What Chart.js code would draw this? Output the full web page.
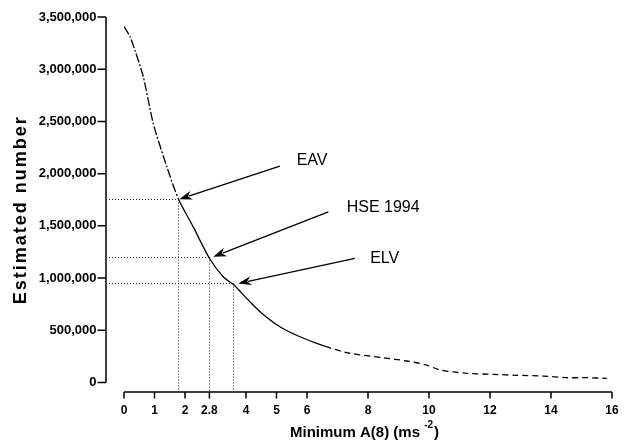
<!DOCTYPE html>
<html>
<head>
<meta charset="utf-8"/>
<script src="https://cdn.jsdelivr.net/npm/chart.js"></script>
<style>
  html, body { margin: 0; padding: 0; background: #fff; }
</style>
</head>
<body>
<canvas id="myChart" width="626" height="442"></canvas>
<script>
// curve
const minA8 = [0, 0.2, 0.36, 0.63, 0.96, 1.4, 1.78, 2.27, 2.8, 3.26, 3.58, 4.02, 4.46, 5.11, 5.77, 6.6, 7.41, 8.5, 9.27, 9.92, 10.36, 11.24, 12.11, 12.87, 13.75, 14.51, 15.17, 15.83];
const estimatedNumber = [3410000, 3310000, 3180000, 2930000, 2480000, 2070000, 1760000, 1490000, 1190000, 1010000, 940000, 806000, 678000, 534000, 438000, 345000, 280000, 237000, 206000, 167000, 120000, 88000, 78000, 69000, 62000, 46000, 46000, 40000];

// tick labels
const xTicks = [0, 1, 2, 2.8, 4, 5, 6, 8, 10, 12, 14, 16];
const yTicks = [0, 500000, 1000000, 1500000, 2000000, 2500000, 3000000, 3500000];

// limit values marked on the curve
const limitNames = ["EAV", "HSE 1994", "ELV"];
const limitA8 = [1.78, 2.8, 3.58];
const limitNumber = [1753000, 1198000, 949000];

// arrow + label placement in data units
const notes = [
  { tip: [1.81, 1755000], tail: [5.11, 2072000], text: [5.66, 2081000] },
  { tip: [2.93, 1204000], tail: [6.70, 1634000], text: [7.30, 1634000] },
  { tip: [3.75, 949000],  tail: [7.57, 1189000], text: [8.07, 1141000] }
];

const FONT = '"Liberation Sans", Arial, sans-serif';

const points = minA8.map((x, i) => ({ x: x, y: estimatedNumber[i] }));

const axesPlugin = {
  id: 'offsetAxes',
  beforeDatasetsDraw(chart) {
    const { ctx, chartArea: a, scales: { x, y } } = chart;
    const axisX = a.left - 18;
    const axisY = a.bottom + 9.5;
    ctx.save();
    ctx.strokeStyle = '#222';
    ctx.lineWidth = 1;
    ctx.setLineDash([1, 2]);
    limitA8.forEach((v, i) => {
      const px = Math.round(x.getPixelForValue(v)) + 0.5;
      const py = Math.round(y.getPixelForValue(limitNumber[i])) + 0.5;
      ctx.beginPath();
      ctx.moveTo(axisX, py);
      ctx.lineTo(px, py);
      ctx.moveTo(px, py);
      ctx.lineTo(px, axisY);
      ctx.stroke();
    });
    ctx.restore();
  },
  afterDraw(chart) {
    const { ctx, chartArea: a, scales: { x, y } } = chart;
    const axisX = a.left - 18;
    const axisY = a.bottom + 9.5;
    ctx.save();
    ctx.strokeStyle = '#000';
    ctx.lineWidth = 1.5;
    // y axis line + ticks
    ctx.beginPath();
    ctx.moveTo(axisX, y.getPixelForValue(3500000));
    ctx.lineTo(axisX, y.getPixelForValue(0));
    y.ticks.forEach(t => {
      const py = y.getPixelForValue(t.value);
      ctx.moveTo(axisX - 8.5, py);
      ctx.lineTo(axisX, py);
    });
    ctx.stroke();
    // x axis line + ticks
    ctx.beginPath();
    ctx.moveTo(x.getPixelForValue(0), axisY);
    ctx.lineTo(x.getPixelForValue(16), axisY);
    x.ticks.forEach(t => {
      const px = x.getPixelForValue(t.value);
      ctx.moveTo(px, axisY);
      ctx.lineTo(px, axisY + 6.5);
    });
    ctx.stroke();

    // arrows and labels
    ctx.lineWidth = 1.3;
    ctx.fillStyle = '#000';
    notes.forEach((n, i) => {
      const tx = x.getPixelForValue(n.tip[0]), ty = y.getPixelForValue(n.tip[1]);
      const sx = x.getPixelForValue(n.tail[0]), sy = y.getPixelForValue(n.tail[1]);
      const ang = Math.atan2(ty - sy, tx - sx);
      const len = 13, half = 4.5;
      const bx = tx - len * Math.cos(ang), by = ty - len * Math.sin(ang);
      ctx.beginPath();
      ctx.moveTo(sx, sy);
      ctx.lineTo(bx + 3 * Math.cos(ang), by + 3 * Math.sin(ang));
      ctx.stroke();
      ctx.beginPath();
      ctx.moveTo(tx, ty);
      ctx.lineTo(bx - half * Math.sin(ang), by + half * Math.cos(ang));
      ctx.lineTo(bx + 4 * Math.cos(ang), by + 4 * Math.sin(ang));
      ctx.lineTo(bx + half * Math.sin(ang), by - half * Math.cos(ang));
      ctx.closePath();
      ctx.fill();

      ctx.font = '16px ' + FONT;
      ctx.textAlign = 'left';
      ctx.textBaseline = 'alphabetic';
      ctx.fillText(limitNames[i], x.getPixelForValue(n.text[0]), y.getPixelForValue(n.text[1]));
    });

    // y title
    ctx.save();
    ctx.translate(21, (a.top + a.bottom) / 2 + 10);
    ctx.rotate(-Math.PI / 2);
    ctx.font = 'bold 18px ' + FONT;
    ctx.letterSpacing = '2px';
    ctx.textAlign = 'center';
    ctx.textBaseline = 'middle';
    ctx.fillText('Estimated number', 0, 0);
    ctx.restore();

    // x title with superscript
    const main = 'Minimum A(8) (ms ', sup = '-2', close = ')';
    ctx.textAlign = 'left';
    ctx.textBaseline = 'alphabetic';
    ctx.font = 'bold 15px ' + FONT;
    const w1 = ctx.measureText(main).width, w3 = ctx.measureText(close).width;
    ctx.font = 'bold 10px ' + FONT;
    const w2 = ctx.measureText(sup).width;
    const cx = (a.left + a.right) / 2 - 4 - (w1 + w2 + w3) / 2;
    const base = 437;
    ctx.font = 'bold 15px ' + FONT;
    ctx.fillText(main, cx, base);
    ctx.font = 'bold 10px ' + FONT;
    ctx.fillText(sup, cx + w1, base - 9);
    ctx.font = 'bold 15px ' + FONT;
    ctx.fillText(close, cx + w1 + w2 + 1, base);
    ctx.restore();
  }
};

const ctx = document.getElementById('myChart').getContext('2d');

new Chart(ctx, {
  type: 'line',
  data: {
    datasets: [{
      label: 'Estimated number',
      data: points,
      borderColor: '#000',
      borderWidth: 1.3,
      pointRadius: 0,
      tension: 0.25,
      fill: false,
      segment: {
        borderDash: c => {
          const px = c.p0.parsed.x;
          if (px < 1.5) return [9, 2, 2, 2];
          if (px >= 6.5) return [6, 4];
          return undefined;
        }
      }
    }]
  },
  options: {
    responsive: false,
    animation: false,
    layout: { padding: { top: 17, right: 14, left: 0, bottom: 0 } },
    plugins: {
      legend: { display: false },
      tooltip: { enabled: false }
    },
    scales: {
      x: {
        type: 'linear',
        min: 0,
        max: 16,
        // grid hidden; tickLength only reserves the gap above the labels
        grid: { display: false, drawTicks: true, tickLength: 20 },
        border: { display: false },
        afterBuildTicks: s => { s.ticks = xTicks.map(v => ({ value: v })); },
        afterFit: s => { s.height = 59.5; },
        ticks: {
          autoSkip: false,
          maxRotation: 0,
          padding: 0.5,
          color: '#000',
          font: { family: FONT, size: 12, weight: 'bold' },
          callback: v => String(v)
        }
      },
      y: {
        min: 0,
        max: 3500000,
        grid: { display: false, drawTicks: true, tickLength: 27 },
        border: { display: false },
        afterBuildTicks: s => { s.ticks = yTicks.map(v => ({ value: v })); },
        afterFit: s => { s.width = 124; },
        ticks: {
          padding: 0.5,
          color: '#000',
          font: { family: FONT, size: 13, weight: 'bold' },
          callback: v => v.toLocaleString('en-US')
        }
      }
    }
  },
  plugins: [axesPlugin]
});
</script>
</body>
</html>
